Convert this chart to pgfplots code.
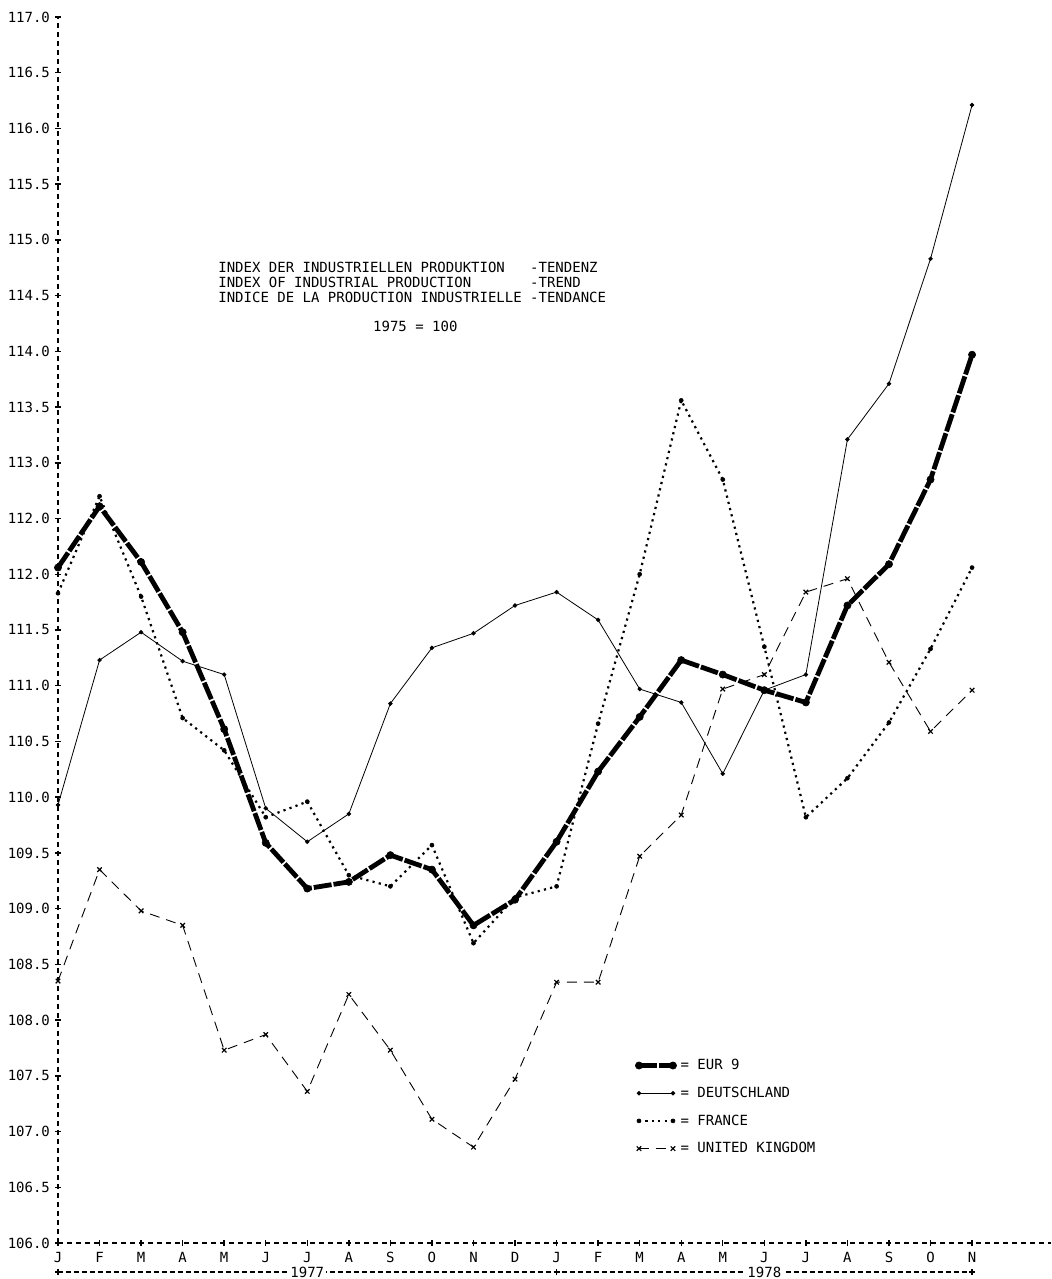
\documentclass[border=0pt]{standalone}
\usepackage{fontspec}
\setmainfont{DejaVu Sans Mono}
\usepackage{pgfplots}
\usepackage{pgfplotstable}
\pgfplotsset{compat=1.18}

% month index (0 = Jan 1977), index 1975 = 100
\pgfplotstableread{
m   eur    de     fr     uk
0   112.06 109.93 111.83 108.35
1   112.61 111.23 112.70 109.35
2   112.11 111.48 111.80 108.98
3   111.48 111.22 110.71 108.85
4   110.61 111.10 110.42 107.73
5   109.59 109.90 109.82 107.87
6   109.18 109.60 109.96 107.36
7   109.24 109.85 109.30 108.23
8   109.48 110.84 109.20 107.73
9   109.35 111.34 109.57 107.11
10  108.85 111.47 108.69 106.86
11  109.08 111.72 109.10 107.47
12  109.60 111.84 109.20 108.34
13  110.23 111.59 110.66 108.34
14  110.72 110.97 112.00 109.47
15  111.23 110.85 113.56 109.84
16  111.10 110.21 112.85 110.97
17  110.96 110.96 111.35 111.10
18  110.85 111.10 109.82 111.84
19  111.72 113.21 110.17 111.96
20  112.09 113.71 110.67 111.21
21  112.85 114.83 111.33 110.59
22  113.97 116.21 112.06 110.96
}\indexdata

\tikzset{yearplus/.style={line width=0.7pt}}

\begin{document}
\begin{tikzpicture}
\fontsize{7}{7}\selectfont
\begin{axis}[
    name=ax,
    scale only axis,
    width=496.5pt, height=613pt,
    xmin=0, xmax=23.9,
    ymin=106, ymax=117,
    axis x line*=bottom,
    axis y line*=left,
    axis line style={line width=0.6pt, dash pattern=on 2.5pt off 2pt},
    tick align=center,
    major tick length=3pt,
    tick style={black, line width=0.7pt, solid},
    xtick={0,...,22},
    xticklabels={J,F,M,A,M,J,J,A,S,O,N,D,J,F,M,A,M,J,J,A,S,O,N},
    ytick={106,106.5,...,117},
    yticklabels={106.0,106.5,107.0,107.5,108.0,108.5,109.0,109.5,110.0,110.5,
                 111.0,111.5,112.0,112.0,113.0,113.5,114.0,114.5,115.0,115.5,
                 116.0,116.5,117.0},
    ticklabel style={font=\fontsize{7}{7}\selectfont},
    xticklabel style={yshift=-0.5pt},
    clip=false,
    legend cell align=left,
    legend style={
        at={(0.575,0.1567)}, anchor=north west,
        draw=none, fill=none,
        font=\fontsize{7}{7}\selectfont,
        row sep=3.6pt,
    },
    legend image code/.code={
        \draw[mark repeat=2, mark phase=1, #1]
            plot coordinates {(0pt,0pt) (8.5pt,0pt) (17pt,0pt)};
    },
]
\addplot[black, line width=2.4pt, dash pattern=on 9pt off 1pt,
         mark=*, mark size=1.8pt, mark options={solid, line width=0.3pt}]
    table[x=m, y=eur] {\indexdata};
\addplot[black, line width=0.4pt,
         mark=*, mark size=0.9pt, mark options={solid}]
    table[x=m, y=de] {\indexdata};
\addplot[black, line width=1.1pt, dash pattern=on 1.1pt off 2.1pt,
         mark=*, mark size=1pt, mark options={solid, line width=0.3pt}]
    table[x=m, y=fr] {\indexdata};
\addplot[black, line width=0.45pt, dash pattern=on 5pt off 3.5pt,
         mark=x, mark size=1.6pt, mark options={solid, line width=0.6pt}]
    table[x=m, y=uk] {\indexdata};
\legend{= EUR 9, = DEUTSCHLAND, = FRANCE, = UNITED KINGDOM}

% title block
\node[anchor=north west, inner sep=0pt, font=\fontsize{7}{7}\selectfont]
    at (axis cs:3.85,114.80) {%
    \begin{tabular}{@{}l@{\ }l@{}}
    INDEX DER INDUSTRIELLEN PRODUKTION & -TENDENZ\\
    INDEX OF INDUSTRIAL PRODUCTION & -TREND\\
    INDICE DE LA PRODUCTION INDUSTRIELLE & -TENDANCE
    \end{tabular}};
\node[font=\fontsize{7}{7}\selectfont, inner sep=0pt]
    at (axis cs:8.6,114.22) {1975 = 100};

% year bracket under the month letters
\coordinate (ya) at (axis cs:0,106);
\coordinate (yb) at (axis cs:12,106);
\coordinate (yc) at (axis cs:22,106);
\coordinate (y1) at (axis cs:6,106);
\coordinate (y2) at (axis cs:17,106);
\end{axis}
\draw[line width=0.6pt, dash pattern=on 2.5pt off 1.5pt]
    ([yshift=-14.5pt]ya) -- ([yshift=-14.5pt]yc);
\foreach \c in {ya,yb,yc}
    \draw[yearplus] ([yshift=-14.5pt]\c) ++(-1.5pt,0) -- ++(3pt,0)
        ++(-1.5pt,-1.5pt) -- ++(0,3pt);
\node[fill=white, inner sep=1pt, font=\fontsize{7}{7}\selectfont]
    at ([yshift=-14.5pt]y1) {1977};
\node[fill=white, inner sep=1pt, font=\fontsize{7}{7}\selectfont]
    at ([yshift=-14.5pt]y2) {1978};
\pgfresetboundingbox
\path[use as bounding box] ([shift={(-29pt,-18pt)}]ax.south west)
    rectangle ([shift={(0pt,8.5pt)}]ax.north east);
\end{tikzpicture}
\end{document}
